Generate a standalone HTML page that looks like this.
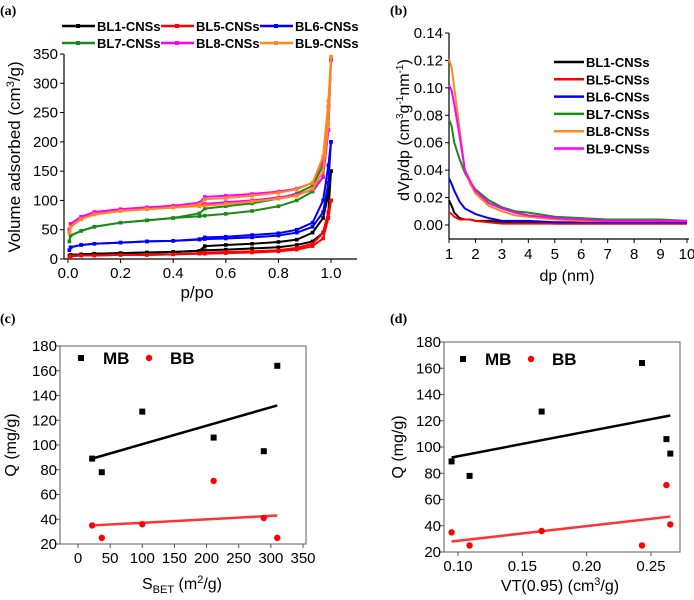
<!DOCTYPE html>
<html><head><meta charset="utf-8"><style>
body{margin:0;background:#fff}
svg{display:block;font-family:"Liberation Sans",sans-serif}
</style></head><body>
<svg id="fig" width="694" height="600" viewBox="0 0 694 600">
<text x="0" y="15" font-family="Liberation Serif" font-weight="bold" font-size="14">(a)</text>
<text x="390" y="15" font-family="Liberation Serif" font-weight="bold" font-size="14">(b)</text>
<text x="0" y="323" font-family="Liberation Serif" font-weight="bold" font-size="14">(c)</text>
<text x="390" y="323" font-family="Liberation Serif" font-weight="bold" font-size="14">(d)</text>
</svg>
<script>
// ---- Panel a data ----
const isoP=[0.005,0.01,0.05,0.1,0.2,0.3,0.4,0.5,0.52,0.6,0.7,0.8,0.87,0.93,0.97,0.99,1.0];
const isoNames=["BL1-CNSs","BL5-CNSs","BL6-CNSs","BL7-CNSs","BL8-CNSs","BL9-CNSs"];
const isoColors=["#000","#f00","#00f","#1a8a1a","#f0f","#ff8a1a"];
const bl1Ads=[5,7,8,9,10,11,12,14,15,16,18,20,24,30,45,80,150];
const bl1Des=[5,7,8,9,10,11,12,14,22,24,26,29,33,45,70,110,150];
const bl5Ads=[3,5,6,6,7,7,8,9,9,10,11,13,16,22,35,70,100];
const bl5Des=[3,5,6,6,7,7,8,10,11,12,13,15,19,26,45,80,100];
const bl6Ads=[15,20,24,26,28,30,31,33,34,35,37,40,45,55,80,130,200];
const bl6Des=[15,20,24,26,28,30,31,34,37,38,41,44,50,62,100,160,200];
const bl7Ads=[30,40,48,55,62,66,70,73,74,77,82,90,100,115,140,220,340];
const bl7Des=[30,40,48,55,62,66,70,78,86,90,95,103,112,125,160,260,340];
const bl8Ads=[50,60,72,80,85,88,91,93,94,97,100,105,110,118,140,220,340];
const bl8Des=[50,60,72,80,85,88,91,96,106,108,111,115,120,130,170,260,340];
const bl9Ads=[45,55,68,76,82,85,88,90,91,94,98,103,108,120,150,230,345];
const bl9Des=[45,55,68,76,82,85,88,93,102,104,108,113,119,130,175,270,345];
const isoAds=[bl1Ads,bl5Ads,bl6Ads,bl7Ads,bl8Ads,bl9Ads];
const isoDes=[bl1Des,bl5Des,bl6Des,bl7Des,bl8Des,bl9Des];
const aXTicks=["0.0","0.2","0.4","0.6","0.8","1.0"];
const aYTicks=[0,50,100,150,200,250,300,350];
// ---- Panel b data ----
const dp=[1,1.1,1.2,1.4,1.6,1.8,2,2.5,3,3.5,4,5,6,7,8,9,10];
const psdNames=["BL1-CNSs","BL5-CNSs","BL6-CNSs","BL7-CNSs","BL8-CNSs","BL9-CNSs"];
const psdColors=["#000","#f00","#00f","#1a8a1a","#ff8a1a","#f0f"];
const psdBL1=[0.018,0.014,0.009,0.005,0.004,0.004,0.003,0.003,0.002,0.002,0.002,0.001,0.001,0.001,0.001,0.001,0.001];
const psdBL5=[0.009,0.008,0.006,0.004,0.004,0.004,0.003,0.002,0.001,0.001,0.001,0.001,0.001,0.001,0.001,0.001,0.001];
const psdBL6=[0.034,0.030,0.025,0.017,0.012,0.010,0.008,0.005,0.003,0.003,0.003,0.002,0.002,0.002,0.002,0.002,0.002];
const psdBL7=[0.077,0.072,0.060,0.048,0.038,0.031,0.026,0.018,0.013,0.010,0.009,0.006,0.005,0.004,0.004,0.004,0.003];
const psdBL8=[0.121,0.115,0.100,0.070,0.040,0.030,0.023,0.014,0.010,0.007,0.006,0.004,0.003,0.003,0.003,0.003,0.003];
const psdBL9=[0.102,0.098,0.088,0.065,0.040,0.032,0.025,0.016,0.012,0.009,0.007,0.005,0.004,0.003,0.003,0.003,0.003];
const psdSeries=[psdBL1,psdBL5,psdBL6,psdBL7,psdBL8,psdBL9];
const bYTicks=["0.00","0.02","0.04","0.06","0.08","0.10","0.12","0.14"];
const bXTicks=[1,2,3,4,5,6,7,8,9,10];
// ---- Panel c data ----
const cS=[22,37,100,211,289,310];
const cMB=[89,78,127,106,95,164];
const cBB=[35,25,36,71,41,25];
const cFitX=[22,310];
const cFitMB=[89,132];
const cFitBB=[35,43];
const cXTicks=[0,50,100,150,200,250,300,350];
const qTicks=[20,40,60,80,100,120,140,160,180];
// ---- Panel d data ----
const dV=[0.095,0.109,0.165,0.243,0.262,0.265];
const dMB=[89,78,127,164,106,95];
const dBB=[35,25,36,25,71,41];
const dFitX=[0.095,0.265];
const dFitMB=[92,124];
const dFitBB=[28,47];
const dXTicks=["0.10","0.15","0.20","0.25"];

const svg=document.getElementById('fig');
const NS="http://www.w3.org/2000/svg";
function mk(tag,at,parent){const e=document.createElementNS(NS,tag);for(const k in at)e.setAttribute(k,at[k]);(parent||svg).appendChild(e);return e;}
function lin(d0,d1,r0,r1){return v=>r0+(v-d0)*(r1-r0)/(d1-d0);}
function txt(s,x,y,size,anchor,extra,name){const t=mk('text',Object.assign({x:x,y:y,'font-size':size,'text-anchor':anchor||'middle'},extra||{}));t.textContent=s;


return t;}
function line(x1,y1,x2,y2,st,w,name){const l=mk('line',{x1,y1,x2,y2,stroke:st,'stroke-width':w});


return l;}
function poly(xs,ys,fx,fy,col,w,name){const p=mk('polyline',{points:xs.map((x,i)=>fx(x)+','+fy(ys[i])).join(' '),fill:'none',stroke:col,'stroke-width':w,'stroke-linejoin':'round'});


return p;}

// ===== Panel a =====
(function(){
const fx=lin(0,1,68,331), fy=lin(0,350,259,54);
line(64,259,357,259,'#000',1.2,'a-x-axis');
line(64,54,64,259,'#000',1.2,'a-y-axis');
aYTicks.forEach(v=>{line(60,fy(v),64,fy(v),'#000',1,'a-y-tick');txt(String(v),58,fy(v)+5,15,'end',{},'a-y-tick-label');});
aXTicks.forEach(s=>{const v=+s;line(fx(v),259,fx(v),263,'#000',1,'a-x-tick');txt(s,fx(v),278,15,'middle',{},'a-x-tick-label');});
txt('p/po',197,298,17,'middle',{},'a-x-axis-title');
const yt=txt('',20,157,17,'middle',{transform:'rotate(-90 20 157)'},'a-y-axis-title');
yt.innerHTML='Volume adsorbed (cm<tspan dy="-6" font-size="11">3</tspan><tspan dy="6">/g)</tspan>';
isoAds.forEach((ads,k)=>{
 poly(isoP,ads,fx,fy,isoColors[k],2,'a-adsorption-'+k);
 poly(isoP,isoDes[k],fx,fy,isoColors[k],2,'a-desorption-'+k);
 isoP.forEach((p,i)=>{[ads[i],isoDes[k][i]].forEach(v=>{const r=mk('rect',{x:fx(p)-1.8,y:fy(v)-1.8,width:3.6,height:3.6,fill:isoColors[k]});
 
 });});
});
const lx=[62,161,260], ly=[26,43];
isoNames.forEach((n,k)=>{const x=lx[k%3],y=ly[Math.floor(k/3)];
 line(x,y,x+33,y,isoColors[k],2.5,'a-legend-line');
 const r=mk('rect',{x:x+14,y:y-2,width:4,height:4,fill:isoColors[k]});
 
 
 txt(n,x+35,y+5,13,'start',{'font-weight':'bold'},'a-legend-entry');});
})();

// ===== Panel b =====
(function(){
const fx=lin(1,10,449,687), fy=lin(0,0.14,225,33);
line(449,239,689,239,'#000',1.2,'b-x-axis');
line(449,33,449,239,'#000',1.2,'b-y-axis');
bYTicks.forEach(s=>{const v=+s;line(445,fy(v),449,fy(v),'#000',1,'b-y-tick');txt(s,443,fy(v)+5,15,'end',{},'b-y-tick-label');});
bXTicks.forEach(v=>{line(fx(v),239,fx(v),243,'#000',1,'b-x-tick');txt(String(v),fx(v),259,15,'middle',{},'b-x-tick-label');});
txt('dp (nm)',567,281,16,'middle',{},'b-x-axis-title');
const yt=txt('',409,130,16,'middle',{transform:'rotate(-90 409 130)'},'b-y-axis-title');
yt.innerHTML='dVp/dp (cm<tspan dy="-6" font-size="10">3</tspan><tspan dy="6">g</tspan><tspan dy="-6" font-size="10">-1</tspan><tspan dy="6">nm</tspan><tspan dy="-6" font-size="10">-1</tspan><tspan dy="6">)</tspan>';
psdSeries.forEach((s,k)=>poly(dp,s,fx,fy,psdColors[k],2,'b-series-'+psdNames[k]));
psdNames.forEach((n,k)=>{const y=62+k*17.3;line(554,y,584,y,psdColors[k],2.5,'b-legend-line');txt(n,586,y+5,13,'start',{'font-weight':'bold'},'b-legend-entry');});
})();

// ===== Scatter panels =====
function scatter(p){
const fx=lin(p.x0,p.x1,p.px0,p.px1), fy=lin(20,180,p.B,p.T);
const fr=mk('rect',{x:p.L,y:p.T,width:p.R-p.L,height:p.B-p.T,fill:'none',stroke:'#777','stroke-width':1.2});


qTicks.forEach(v=>{line(p.L-4,fy(v),p.L,fy(v),'#555',1,p.id+'-y-tick');txt(String(v),p.L-3,fy(v)+5,15,'end',{},p.id+'-y-tick-label');});
p.xt.forEach(s=>{const v=+s;line(fx(v),p.B,fx(v),p.B+4,'#555',1,p.id+'-x-tick');txt(String(s),fx(v),p.B+19,15,'middle',{},p.id+'-x-tick-label');});
poly(p.fitX,p.fitMB,fx,fy,'#000',2.5,p.id+'-mb-fit-line');
poly(p.fitX,p.fitBB,fx,fy,'#f33',2.5,p.id+'-bb-fit-line');
p.xs.forEach((x,i)=>{const r=mk('rect',{x:fx(x)-3,y:fy(p.mb[i])-3,width:6,height:6,fill:'#000'});
 
 
 const c=mk('circle',{cx:fx(x),cy:fy(p.bb[i]),r:3.2,fill:'#f00'});
 
 });
const r=mk('rect',{x:p.lg[0]-3,y:p.lg[1]-3,width:6,height:6,fill:'#000'});


txt('MB',p.lg[0]+22,p.lg[1]+6,17,'start',{'font-weight':'bold'},p.id+'-legend-mb');
const c=mk('circle',{cx:p.lg[0]+68,cy:p.lg[1],r:3.2,fill:'#f00'});


txt('BB',p.lg[0]+89,p.lg[1]+6,17,'start',{'font-weight':'bold'},p.id+'-legend-bb');
txt('Q (mg/g)',p.yx,(p.T+p.B)/2,16,'middle',{transform:'rotate(-90 '+p.yx+' '+(p.T+p.B)/2+')'},p.id+'-y-axis-title');
const xt=txt('',p.tx,p.ty,16,'middle',{},p.id+'-x-axis-title');xt.innerHTML=p.title;
}
scatter({id:'c',L:60,R:306,T:346,B:544,x0:0,x1:350,px0:78,px1:303,xs:cS,mb:cMB,bb:cBB,fitX:cFitX,fitMB:cFitMB,fitBB:cFitBB,xt:cXTicks,lg:[81,358],yx:16,tx:182,ty:589,
 title:'S<tspan dy="4" font-size="11">BET</tspan><tspan dy="-4"> (m</tspan><tspan dy="-6" font-size="11">2</tspan><tspan dy="6">/g)</tspan>'});
scatter({id:'d',L:444,R:680,T:342,B:552,x0:0.10,x1:0.25,px0:458,px1:651,xs:dV,mb:dMB,bb:dBB,fitX:dFitX,fitMB:dFitMB,fitBB:dFitBB,xt:dXTicks,lg:[463,359],yx:403,tx:560,ty:591,
 title:'VT(0.95) (cm<tspan dy="-6" font-size="11">3</tspan><tspan dy="6">/g)</tspan>'});
</script>
</body></html>
